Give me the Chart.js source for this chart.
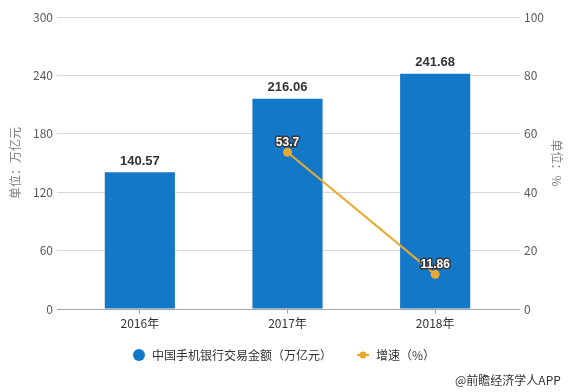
<!DOCTYPE html>
<html>
<head>
<meta charset="utf-8">
<script src="https://cdn.jsdelivr.net/npm/chart.js@4.4.1/dist/chart.umd.min.js"></script>
<style>
  html, body { margin: 0; padding: 0; background: #fff; }
  #wrap { position: relative; width: 573px; height: 392px; }
  #source {
    position: absolute; left: 455px; top: 371px;
    font: 12px "Noto Sans CJK SC", sans-serif; color: #333; white-space: nowrap;
  }
</style>
</head>
<body>
<div id="wrap">
  <canvas id="chart" width="573" height="392"></canvas>
  <div id="source">@前瞻经济学人APP</div>
</div>
<script>
// data
const years = ["2016年", "2017年", "2018年"];
const amounts = [140.57, 216.06, 241.68];   // 万亿元
const growth = [null, 53.7, 11.86];         // %
const leftTicks = [0, 60, 120, 180, 240, 300];
const rightTicks = [0, 20, 40, 60, 80, 100];

const BLUE = "#1478c8";
const GOLD = "#e8aa2e";
const FONT = '"Noto Sans CJK SC", "Microsoft YaHei", sans-serif';

Chart.defaults.font.family = FONT;

// value labels above bars / points
const valueLabels = {
  id: "valueLabels",
  afterDatasetsDraw(chart) {
    const ctx = chart.ctx;
    ctx.save();
    ctx.textAlign = "center";
    ctx.textBaseline = "middle";
    ctx.font = 'bold 13px "Liberation Sans", sans-serif';
    ctx.fillStyle = "#333";
    chart.getDatasetMeta(0).data.forEach((bar, i) => {
      ctx.fillText(amounts[i].toFixed(2), bar.x, bar.y - 11);
    });
    ctx.font = 'bold 12px "Liberation Sans", sans-serif';
    ctx.lineJoin = "round";
    chart.getDatasetMeta(1).data.forEach((pt, i) => {
      if (growth[i] == null) return;
      ctx.lineWidth = 3;
      ctx.strokeStyle = "#3a3a3a";
      ctx.strokeText(String(growth[i]), pt.x, pt.y - 10);
      ctx.fillStyle = "#fff";
      ctx.fillText(String(growth[i]), pt.x, pt.y - 10);
    });
    ctx.restore();
  }
};

// legend under the axis: dot for bars, line-with-dot for growth
const bottomLegend = {
  id: "bottomLegend",
  afterDraw(chart) {
    const ctx = chart.ctx;
    const ds = chart.data.datasets;
    ctx.save();
    ctx.font = "12px " + FONT;
    ctx.textBaseline = "middle";
    const w0 = ctx.measureText(ds[0].label).width;
    const w1 = ctx.measureText(ds[1].label).width;
    const total = 12 + 7 + w0 + 25 + 12 + 7 + w1;
    let x = 284 - total / 2;
    const y = 355;
    ctx.fillStyle = ds[0].backgroundColor;
    ctx.beginPath(); ctx.arc(x + 6, y, 6, 0, Math.PI * 2); ctx.fill();
    x += 19;
    ctx.fillStyle = "#333";
    ctx.fillText(ds[0].label, x, y);
    x += w0 + 25;
    ctx.strokeStyle = ds[1].borderColor; ctx.lineWidth = 2;
    ctx.beginPath(); ctx.moveTo(x, y); ctx.lineTo(x + 12, y); ctx.stroke();
    ctx.fillStyle = ds[1].borderColor;
    ctx.beginPath(); ctx.arc(x + 6, y, 3.5, 0, Math.PI * 2); ctx.fill();
    x += 19;
    ctx.fillStyle = "#333";
    ctx.fillText(ds[1].label, x, y);
    ctx.restore();
  }
};

const gridColor = c => (c.tick && c.tick.value === 0) ? "#a6a6a6" : "#d9d9d9";

new Chart(document.getElementById("chart"), {
  data: {
    labels: years,
    datasets: [
      {
        type: "bar",
        label: "中国手机银行交易金额（万亿元）",
        data: amounts,
        backgroundColor: BLUE,
        barPercentage: 0.95,
        categoryPercentage: 0.5,
        yAxisID: "y",
        order: 1
      },
      {
        type: "line",
        label: "增速（%）",
        data: growth,
        borderColor: GOLD,
        backgroundColor: GOLD,
        borderWidth: 2,
        pointRadius: 4.5,
        pointBackgroundColor: GOLD,
        pointBorderWidth: 0,
        yAxisID: "y1",
        order: 0
      }
    ]
  },
  options: {
    responsive: false,
    animation: false,
    devicePixelRatio: 1,
    layout: { padding: { top: 17, bottom: 53 } },
    plugins: {
      tooltip: { enabled: false },
      legend: { display: false }
    },
    scales: {
      x: {
        offset: true,
        grid: { offset: false, drawOnChartArea: false, tickLength: 5, color: "#a6a6a6" },
        border: { color: "#a6a6a6" },
        ticks: { color: "#333", font: { size: 12 }, padding: 2 },
        afterFit: s => { s.height = 30; }
      },
      y: {
        position: "left",
        min: 0, max: 300,
        afterBuildTicks: s => { s.ticks = leftTicks.map(v => ({ value: v })); },
        grid: { color: gridColor, tickLength: 9 },
        border: { display: false },
        ticks: { color: "#595959", font: { size: 12 }, padding: 4 },
        title: { display: true, text: "单位：万亿元", color: "#7f7f7f", font: { size: 12 }, padding: { top: 8 } },
        afterFit: s => { s.width = 66; }
      },
      y1: {
        position: "right",
        min: 0, max: 100,
        afterBuildTicks: s => { s.ticks = rightTicks.map(v => ({ value: v })); },
        grid: { drawOnChartArea: false, color: gridColor, tickLength: 11 },
        border: { display: false },
        ticks: { color: "#595959", font: { size: 12 }, padding: 4 },
        title: { display: true, text: "单位：%", color: "#7f7f7f", font: { size: 12 }, padding: { top: 9 } },
        afterFit: s => { s.width = 64; }
      }
    }
  },
  plugins: [valueLabels, bottomLegend]
});
</script>
</body>
</html>
